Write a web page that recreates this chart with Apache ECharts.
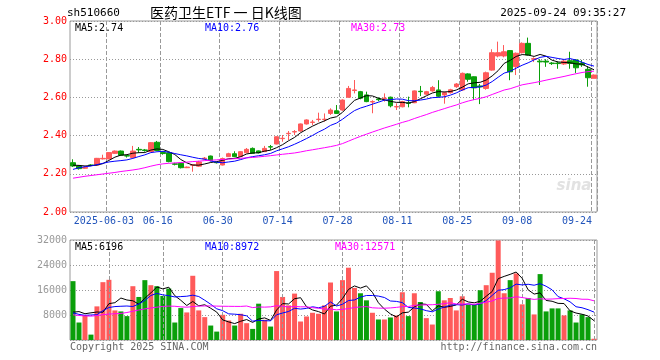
<!DOCTYPE html>
<html><head><meta charset="utf-8">
<script src="https://cdn.jsdelivr.net/npm/echarts@6/dist/echarts.min.js"></script>
<style>html,body{margin:0;padding:0;background:#fff}#c{width:660px;height:360px}</style>
</head><body><div id="c"></div>
<script>
const dates = ['2025-05-23','2025-05-26','2025-05-27','2025-05-28','2025-05-29','2025-05-30',
'2025-06-03','2025-06-04','2025-06-05','2025-06-06','2025-06-09','2025-06-10','2025-06-11','2025-06-12','2025-06-13',
'2025-06-16','2025-06-17','2025-06-18','2025-06-19','2025-06-20','2025-06-23','2025-06-24','2025-06-25','2025-06-26','2025-06-27','2025-06-30',
'2025-07-01','2025-07-02','2025-07-03','2025-07-04','2025-07-07','2025-07-08','2025-07-09','2025-07-10','2025-07-11',
'2025-07-14','2025-07-15','2025-07-16','2025-07-17','2025-07-18','2025-07-21','2025-07-22','2025-07-23','2025-07-24','2025-07-25',
'2025-07-28','2025-07-29','2025-07-30','2025-07-31','2025-08-01','2025-08-04','2025-08-05','2025-08-06','2025-08-07','2025-08-08',
'2025-08-11','2025-08-12','2025-08-13','2025-08-14','2025-08-15','2025-08-18','2025-08-19','2025-08-20','2025-08-21','2025-08-22',
'2025-08-25','2025-08-26','2025-08-27','2025-08-28','2025-08-29','2025-09-01','2025-09-02','2025-09-03','2025-09-04','2025-09-05',
'2025-09-08','2025-09-09','2025-09-10','2025-09-11','2025-09-12','2025-09-15','2025-09-16','2025-09-17','2025-09-18','2025-09-19',
'2025-09-22','2025-09-23','2025-09-24'];

const opens = [2.258,2.241,2.229,2.246,2.246,2.278,2.278,2.307,2.319,2.295,2.285,2.328,2.325,2.316,2.365,
2.312,2.310,2.252,2.255,2.232,2.245,2.240,2.278,2.293,2.260,2.246,
2.290,2.305,2.290,2.310,2.333,2.320,2.316,2.342,2.356,
2.384,2.410,2.419,2.424,2.461,2.469,2.484,2.484,2.516,2.530,
2.534,2.601,2.636,2.630,2.613,2.576,2.592,2.594,2.601,2.550,
2.551,2.571,2.572,2.632,2.617,2.634,2.639,2.613,2.625,2.656,
2.639,2.723,2.708,2.660,2.647,2.743,2.817,2.817,2.845,2.761,
2.834,2.883,2.800,2.790,2.790,2.780,2.780,2.775,2.792,2.796,
2.780,2.747,2.700];
const closes = [2.241,2.227,2.234,2.244,2.281,2.281,2.311,2.319,2.297,2.293,2.319,2.325,2.322,2.363,2.322,
2.306,2.264,2.250,2.232,2.235,2.247,2.262,2.282,2.270,2.258,2.280,
2.305,2.290,2.316,2.328,2.307,2.310,2.333,2.340,2.394,
2.386,2.412,2.421,2.461,2.482,2.471,2.486,2.486,2.534,2.516,
2.586,2.647,2.639,2.596,2.578,2.578,2.588,2.596,2.556,2.552,
2.578,2.569,2.634,2.630,2.630,2.652,2.606,2.625,2.640,2.670,
2.726,2.695,2.650,2.655,2.729,2.834,2.834,2.839,2.734,2.831,
2.883,2.822,2.803,2.786,2.785,2.777,2.777,2.790,2.778,2.755,
2.770,2.703,2.717];
const lows = [2.236,2.222,2.226,2.240,2.244,2.275,2.276,2.305,2.295,2.285,2.283,2.310,2.316,2.314,2.318,
2.300,2.260,2.244,2.228,2.230,2.211,2.236,2.272,2.265,2.254,2.244,
2.288,2.287,2.288,2.308,2.305,2.307,2.314,2.325,2.354,
2.368,2.377,2.403,2.420,2.458,2.455,2.473,2.473,2.508,2.514,
2.530,2.598,2.621,2.590,2.575,2.517,2.580,2.578,2.548,2.534,
2.548,2.548,2.570,2.607,2.613,2.630,2.600,2.567,2.620,2.650,
2.635,2.682,2.586,2.565,2.640,2.740,2.810,2.810,2.690,2.717,
2.830,2.820,2.785,2.665,2.760,2.770,2.750,2.770,2.750,2.728,
2.760,2.656,2.700];
const highs = [2.276,2.245,2.240,2.250,2.283,2.300,2.313,2.322,2.322,2.300,2.346,2.340,2.330,2.366,2.372,
2.318,2.312,2.258,2.257,2.238,2.250,2.268,2.288,2.295,2.262,2.285,
2.310,2.318,2.318,2.335,2.338,2.322,2.346,2.351,2.396,
2.403,2.424,2.429,2.463,2.485,2.482,2.520,2.516,2.543,2.560,
2.590,2.660,2.691,2.634,2.630,2.585,2.600,2.621,2.604,2.569,
2.582,2.604,2.636,2.660,2.634,2.660,2.690,2.630,2.645,2.675,
2.730,2.726,2.710,2.670,2.735,2.852,2.892,2.874,2.848,2.835,
2.888,2.913,2.810,2.800,2.800,2.785,2.787,2.800,2.839,2.800,
2.796,2.763,2.720];
const volumes = [18830,5595,7855,1722,10760,18507,19260,9469,9146,7640,17216,13773,19153,17539,17216,
14096,16463,5595,10222,8823,20552,9469,7317,4627,2690,8070,
6241,4627,8393,5380,3551,11621,6456,4304,22058,
13773,11083,14849,5918,7532,8716,8393,11083,18400,9146,
19153,23134,16678,14956,12697,8716,6564,6564,7209,7855,
15279,7640,14956,12159,6994,4950,15602,12697,13450,9469,
13988,11298,11298,15925,17539,21520,31850,14956,19153,21305,
11406,13450,8178,21090,9146,10114,10114,7855,9469,5595,
8178,7317,400];

// moving-average values for the first days (earlier history is not shown)
const ma5Lead = [2.245,2.244,2.241,2.243];
const ma10Lead = [2.223,2.232,2.237,2.241,2.248,2.255,2.262,2.266,2.269];
const ma30Lead = [2.177,2.182,2.187,2.191,2.195,2.199,2.203,2.207,2.212,2.216,2.220,2.225,2.232,2.240,2.247,2.252,2.255,2.257,2.259,2.261,2.264,2.266,2.269,2.271,2.273,2.275,2.277,2.279,2.281];
const volMa5Lead = [8900,9100,8400,8700];
const volMa10Lead = [8700,8200,7900,8000,8100,9400,10400,10700,10800];
const volMa30Lead = [8070,7850,7700,7650,7800,8100,8300,8400,8500,8800,9200,9600,9950,10250,10500,10750,10850,10800,10600,10500,10700,10850,10900,10900,10850,10800,10780,10760,10750];

const tickDates = ['2025-06-03','2025-06-16','2025-06-30','2025-07-14','2025-07-28','2025-08-11','2025-08-25','2025-09-08','2025-09-24'];
const priceTicks = {min: 2.0, max: 3.0, step: 0.2};
const volTicks = {min: 0, max: 32000, step: 8000};

const titleCode = 'sh510660';
const titleName = '医药卫生ETF 一 日K线图';
const stamp = '2025-09-24 09:35:27';
const priceLegend = ['MA5:2.74','MA10:2.76','MA30:2.73'];
const volLegend = ['MA5:6196','MA10:8972','MA30:12571'];
const footLeft = 'Copyright 2025 SINA.COM';
const footRight = 'http://finance.sina.com.cn';

function ma(arr, n, lead, dec) {
  return arr.map((v, i) => {
    if (i < n - 1) return lead[i];
    let s = 0; for (let k = i - n + 1; k <= i; k++) s += arr[k];
    return +(s / n).toFixed(dec);
  });
}

const RED = '#ff5a5a', GREEN = '#0a9f0a';
const MONO = '"DejaVu Sans Mono", "Liberation Mono", monospace';
const tickIdx = tickDates.map(d => dates.indexOf(d));
const showTick = (i) => tickIdx.includes(i);
const kData = dates.map((d, i) => [opens[i], closes[i], lows[i], highs[i]]);
const vData = volumes.map((v, i) => ({value: v, itemStyle: {color: closes[i] >= opens[i] ? RED : GREEN}}));
const MAIN_H = 191, VOL_H = 100;

const chart = echarts.init(document.getElementById('c'), null, {renderer: 'canvas'});
const hSplit = () => ({show: true, lineStyle: {color: '#999999', type: [1, 2], width: 1}});

function lineSeries(name, data, color, xi) {
  return {name, type: 'line', data, xAxisIndex: xi, yAxisIndex: xi, symbol: 'none', smooth: false,
    lineStyle: {color, width: 1}, silent: true, z: 5};
}

chart.setOption({
  animation: false,
  backgroundColor: '#fff',
  grid: [
    {left: 70, top: 21, width: 527, height: MAIN_H, show: true, borderColor: '#9a9a9a', borderWidth: 1},
    {left: 70, top: 240, width: 527, height: VOL_H, show: true, borderColor: '#9a9a9a', borderWidth: 1}
  ],
  xAxis: [
    {type: 'category', gridIndex: 0, data: dates, boundaryGap: true,
     axisLine: {show: false},
     axisTick: {show: true, length: 0, interval: (i) => showTick(i)},
     axisLabel: {interval: (i) => showTick(i), margin: 4, color: '#2255bb',
       formatter: (v) => {
         const t = v === tickDates[0] ? v : v.slice(5);
         return v === dates[dates.length - 1] ? '{e|' + t + '}' : '{n|' + t + '}';
       },
       rich: {
         n: {fontFamily: MONO, fontSize: 10, color: '#2255bb', padding: [0, 10, 0, 0]},
         e: {fontFamily: MONO, fontSize: 10, color: '#2255bb', padding: [0, 34, 0, 0]}
       }},
     splitLine: {show: true, interval: (i) => showTick(i), lineStyle: {color: '#999999', width: 1, type: 'dashed'}}},
    {type: 'category', gridIndex: 1, data: dates, boundaryGap: true,
     axisLine: {show: false}, axisTick: {show: false}, axisLabel: {show: false},
     splitLine: {show: false}}
  ],
  yAxis: [
    {type: 'value', gridIndex: 0, min: priceTicks.min, max: priceTicks.max, interval: priceTicks.step,
     axisLine: {show: false}, axisTick: {show: false},
     axisLabel: {color: '#ff0000', fontFamily: MONO, fontSize: 10, margin: 3, formatter: (v) => v.toFixed(2)},
     splitLine: hSplit()},
    {type: 'value', gridIndex: 1, min: volTicks.min, max: volTicks.max, interval: volTicks.step,
     axisLine: {show: false}, axisTick: {show: false},
     axisLabel: {color: '#999999', fontFamily: MONO, fontSize: 10, margin: 3, formatter: (v) => v === 0 ? '' : String(v)},
     splitLine: hSplit()}
  ],
  series: [
    {type: 'candlestick', xAxisIndex: 0, yAxisIndex: 0, data: kData, barWidth: 5, silent: true, z: 3,
     itemStyle: {color: RED, color0: GREEN, borderColor: RED, borderColor0: GREEN, borderWidth: 1}},
    lineSeries('MA5', ma(closes, 5, ma5Lead, 4), '#000000', 0),
    lineSeries('MA10', ma(closes, 10, ma10Lead, 4), '#0000ff', 0),
    lineSeries('MA30', ma(closes, 30, ma30Lead, 4), '#ff00ff', 0),
    {type: 'bar', xAxisIndex: 1, yAxisIndex: 1, data: vData, barWidth: 5, silent: true, z: 3,
     markLine: {silent: true, symbol: ['none', 'none'], animation: false, label: {show: false},
       lineStyle: {color: '#999999', width: 1, type: 'dashed'},
       data: tickDates.map(d => ({xAxis: d}))}},
    lineSeries('VMA5', ma(volumes, 5, volMa5Lead, 0), '#000000', 1),
    lineSeries('VMA10', ma(volumes, 10, volMa10Lead, 0), '#0000ff', 1),
    lineSeries('VMA30', ma(volumes, 30, volMa30Lead, 0), '#ff00ff', 1)
  ],
  graphic: [
    {type: 'text', x: 67, y: 13, style: {text: titleCode, font: '11px ' + MONO, fill: '#000', align: 'left', verticalAlign: 'middle'}},
    {type: 'text', x: 150, y: 13, style: {text: titleName, font: '14px "Noto Sans CJK SC"', fill: '#000', align: 'left', verticalAlign: 'middle'}},
    {type: 'text', x: 626, y: 13, style: {text: stamp, font: '11px ' + MONO, fill: '#000', align: 'right', verticalAlign: 'middle'}},
    {type: 'text', x: 75, y: 28, z: 10, style: {text: priceLegend[0], font: '10px ' + MONO, fill: '#000', align: 'left', verticalAlign: 'middle'}},
    {type: 'text', x: 205, y: 28, z: 10, style: {text: priceLegend[1], font: '10px ' + MONO, fill: '#0000ff', align: 'left', verticalAlign: 'middle'}},
    {type: 'text', x: 351, y: 28, z: 10, style: {text: priceLegend[2], font: '10px ' + MONO, fill: '#ff00ff', align: 'left', verticalAlign: 'middle'}},
    {type: 'text', x: 75, y: 247, z: 10, style: {text: volLegend[0], font: '10px ' + MONO, fill: '#000', align: 'left', verticalAlign: 'middle'}},
    {type: 'text', x: 205, y: 247, z: 10, style: {text: volLegend[1], font: '10px ' + MONO, fill: '#0000ff', align: 'left', verticalAlign: 'middle'}},
    {type: 'text', x: 335, y: 247, z: 10, style: {text: volLegend[2], font: '10px ' + MONO, fill: '#ff00ff', align: 'left', verticalAlign: 'middle'}},
    {type: 'text', x: 70, y: 347, style: {text: footLeft, font: '10px ' + MONO, fill: '#666', align: 'left', verticalAlign: 'middle'}},
    {type: 'text', x: 597, y: 347, style: {text: footRight, font: '10px ' + MONO, fill: '#666', align: 'right', verticalAlign: 'middle'}},
    {type: 'text', x: 574, y: 186, z: 1, style: {text: 'sina', font: 'italic bold 15px "DejaVu Sans"', fill: '#e2e2e2', align: 'center', verticalAlign: 'middle'}}
  ]
});
</script>
</body></html>
